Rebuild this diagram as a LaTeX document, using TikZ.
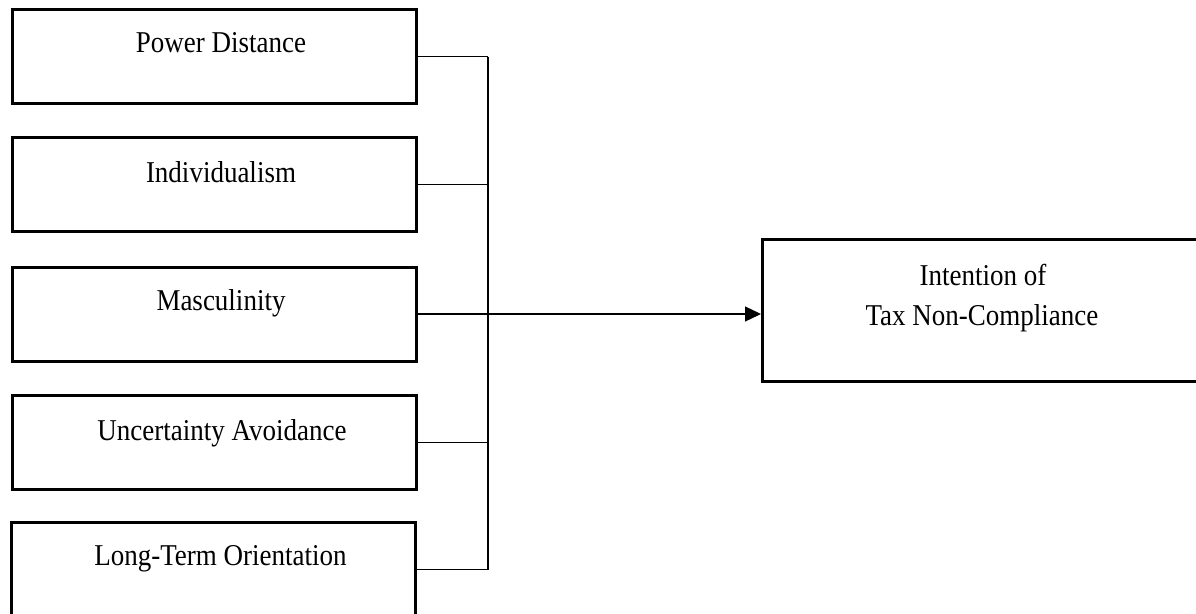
\documentclass[tikz,border=0pt]{standalone}
\usepackage{fontspec}
\setmainfont{Liberation Serif}
\usetikzlibrary{arrows.meta}
\newcommand{\vst}[1]{\scalebox{1}[1.12]{#1}}
\begin{document}
\begin{tikzpicture}[x=1pt,y=-1pt,
  box/.style={draw=black,line width=3pt,rectangle,inner sep=0pt,minimum width=404pt,minimum height=94pt},
  lbl/.style={anchor=base,inner sep=0pt,font=\fontsize{27}{32}\selectfont},
  conn/.style={draw=black,line width=1.3pt}]
\useasboundingbox (0,0) rectangle (1196,613);
\node[box] (pd)  at (214.5,56.5) {};
\node[box] (ind) at (214.5,184.5) {};
\node[box] (mas) at (214.5,314) {};
\node[box] (ua)  at (214.5,442.5) {};
\node[box] (lto) at (213.5,569.5) {};
\node[box,minimum width=441pt,minimum height=142pt] (tgt) at (983,310.5) {};
\node[lbl] (tpd)  at (221,52) {\vst{Power Distance}};
\node[lbl] (tind) at (221,182) {\vst{Individualism}};
\node[lbl] (tmas) at (221,310) {\vst{Masculinity}};
\node[lbl] (tua)  at (222,440) {\vst{Uncertainty Avoidance}};
\node[lbl] (tlto) at (220.5,565) {\vst{Long-Term Orientation}};
\node[lbl] (ttg1) at (983,285) {\vst{Intention of}};
\node[lbl] (ttg2) at (982,325) {\vst{Tax Non-Compliance}};
\coordinate (bus) at (488,314);
\draw[conn] (pd.east) -- (pd.east -| bus);
\draw[conn] (ind.east) -- (ind.east -| bus);
\draw[conn] (ua.east) -- (ua.east -| bus);
\draw[conn] (lto.east) -- (lto.east -| bus);
\draw[conn] (pd.east -| bus) -- (lto.east -| bus);
\draw[conn,-{Triangle[length=16pt,width=15pt]}] (mas.east) -- (tgt.west |- mas.east);
\end{tikzpicture}
\end{document}
